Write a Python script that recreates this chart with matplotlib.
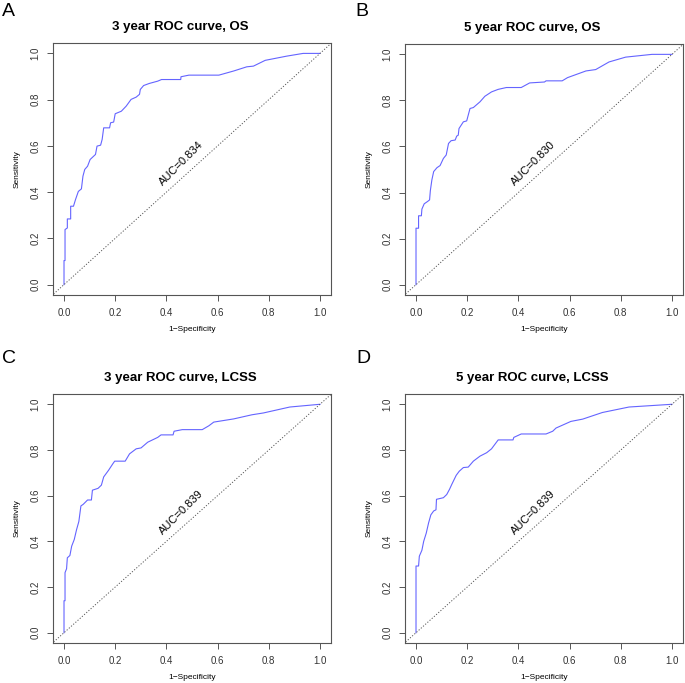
import numpy as np
import matplotlib
matplotlib.use("Agg")
from matplotlib import pyplot as plt

plt.rcParams['font.family'] = ['Liberation Sans', 'DejaVu Sans']

# ROC curve points (1-specificity, sensitivity)
fpr_a = [0, 0, 0.004, 0.004, 0.013, 0.013, 0.026, 0.026, 0.037, 0.045, 0.056, 0.068, 0.074, 0.081,
         0.092, 0.102, 0.123, 0.129, 0.143, 0.149, 0.155, 0.178, 0.182, 0.194, 0.2, 0.224, 0.243,
         0.262, 0.282, 0.295, 0.298, 0.311, 0.333, 0.366, 0.381, 0.456, 0.457, 0.488, 0.605, 0.663,
         0.714, 0.740, 0.786, 0.869, 0.934, 1.0]
tpr_a = [0, 0.104, 0.104, 0.238, 0.245, 0.284, 0.284, 0.339, 0.339, 0.368, 0.403, 0.414, 0.469, 0.498,
         0.512, 0.541, 0.563, 0.599, 0.603, 0.628, 0.678, 0.678, 0.70, 0.703, 0.739, 0.750, 0.772,
         0.801, 0.811, 0.823, 0.844, 0.861, 0.870, 0.880, 0.887, 0.887, 0.899, 0.906, 0.906, 0.924,
         0.942, 0.945, 0.970, 0.988, 1.0, 1.0]

fpr_b = [0, 0, 0.010, 0.010, 0.021, 0.023, 0.032, 0.045, 0.053, 0.056, 0.062, 0.069, 0.082, 0.094,
         0.107, 0.118, 0.127, 0.137, 0.153, 0.159, 0.165, 0.168, 0.185, 0.198, 0.211, 0.224, 0.250,
         0.269, 0.295, 0.321, 0.353, 0.411, 0.444, 0.502, 0.508, 0.571, 0.592, 0.664, 0.702, 0.754,
         0.819, 0.922, 1.0]
tpr_b = [0, 0.245, 0.245, 0.299, 0.299, 0.328, 0.351, 0.361, 0.368, 0.408, 0.455, 0.491, 0.508, 0.517,
         0.548, 0.563, 0.613, 0.625, 0.628, 0.645, 0.649, 0.678, 0.707, 0.711, 0.765, 0.769, 0.794,
         0.818, 0.837, 0.848, 0.856, 0.856, 0.876, 0.880, 0.885, 0.885, 0.899, 0.928, 0.934, 0.967,
         0.988, 1.0, 1.0]

fpr_c = [0, 0, 0.004, 0.004, 0.010, 0.013, 0.023, 0.030, 0.040, 0.049, 0.058, 0.066, 0.075, 0.092,
         0.107, 0.111, 0.133, 0.146, 0.155, 0.174, 0.191, 0.198, 0.239, 0.256, 0.282, 0.301, 0.327,
         0.366, 0.379, 0.426, 0.430, 0.462, 0.540, 0.566, 0.585, 0.663, 0.734, 0.779, 0.882, 1.0]
tpr_c = [0, 0.14, 0.14, 0.263, 0.280, 0.328, 0.338, 0.379, 0.408, 0.451, 0.487, 0.555, 0.562, 0.581,
         0.581, 0.624, 0.632, 0.646, 0.682, 0.711, 0.740, 0.751, 0.751, 0.783, 0.805, 0.809, 0.834,
         0.855, 0.866, 0.866, 0.882, 0.889, 0.889, 0.906, 0.922, 0.936, 0.954, 0.962, 0.988, 1.0]

fpr_d = [0, 0, 0.010, 0.013, 0.023, 0.030, 0.040, 0.049, 0.058, 0.069, 0.078, 0.080, 0.107, 0.120,
         0.131, 0.140, 0.157, 0.169, 0.185, 0.204, 0.224, 0.250, 0.276, 0.295, 0.321, 0.379, 0.382,
         0.411, 0.508, 0.534, 0.547, 0.605, 0.651, 0.728, 0.832, 1.0]
tpr_d = [0, 0.292, 0.292, 0.335, 0.361, 0.400, 0.436, 0.480, 0.516, 0.533, 0.538, 0.584, 0.591, 0.605,
         0.628, 0.650, 0.689, 0.707, 0.723, 0.725, 0.751, 0.773, 0.788, 0.805, 0.844, 0.844, 0.855,
         0.870, 0.870, 0.882, 0.896, 0.925, 0.935, 0.964, 0.988, 1.0]

panel_letters = ['A', 'B', 'C', 'D']
titles = ['3 year ROC curve, OS', '5 year ROC curve, OS',
          '3 year ROC curve, LCSS', '5 year ROC curve, LCSS']
auc_labels = ['AUC=0.834', 'AUC=0.830', 'AUC=0.839', 'AUC=0.839']
curves = [(fpr_a, tpr_a), (fpr_b, tpr_b), (fpr_c, tpr_c), (fpr_d, tpr_d)]
ticks = [0.0, 0.2, 0.4, 0.6, 0.8, 1.0]

W, H = 685, 683
# axes boxes in pixels: left, top, right, bottom
boxes = [(53, 43, 331, 295), (405, 44, 683, 295), (53, 394, 331, 643), (405, 394, 683, 643)]
letter_pos = [(2, 3), (355, 3), (2, 350), (356, 350)]

fig = plt.figure(figsize=(W / 100, H / 100), dpi=100)
edge = '#555555'
for i in range(4):
    l, t, r, b = boxes[i]
    ax = fig.add_axes([l / W, (H - b) / H, (r - l) / W, (b - t) / H])
    fpr, tpr = curves[i]
    ax.plot(fpr, tpr, color='#6464ff', lw=0.8)
    ax.plot([-0.1, 1.1], [-0.1, 1.1], color='#555555', lw=0.7, linestyle=(0, (1.2, 1.8)))
    ax.set_xlim(-0.043, 1.043)
    ax.set_ylim(-0.045, 1.045)
    ax.set_xticks(ticks)
    ax.set_yticks(ticks)
    ax.set_xticklabels([f'{v:.1f}' for v in ticks], fontsize=7, color='#333333')
    ax.set_yticklabels([f'{v:.1f}' for v in ticks], fontsize=7, color='#333333',
                       rotation=90, va='center')
    ax.tick_params(length=4, width=0.7, color=edge, pad=5)
    for s in ax.spines.values():
        s.set_color(edge)
        s.set_linewidth(0.8)
    ax.set_xlabel('1\u2212Specificity', fontsize=6, labelpad=6)
    ax.set_ylabel('Sensitivity', fontsize=6, labelpad=7)
    # title sits a bit left of the box centre, as in the reference
    fig.text(((l + r) / 2 - 12) / W, 1 - (t - 16) / H, titles[i], fontsize=9.5,
             fontweight='bold', ha='center', va='center')
    ax.text(0.46, 0.525, auc_labels[i], rotation=45, fontsize=8,
            ha='center', va='center', rotation_mode='anchor')
    lx, ly = letter_pos[i]
    fig.text(lx / W, 1 - ly / H, panel_letters[i], fontsize=14, ha='left', va='top')

fig.savefig('out.png', dpi=100)
